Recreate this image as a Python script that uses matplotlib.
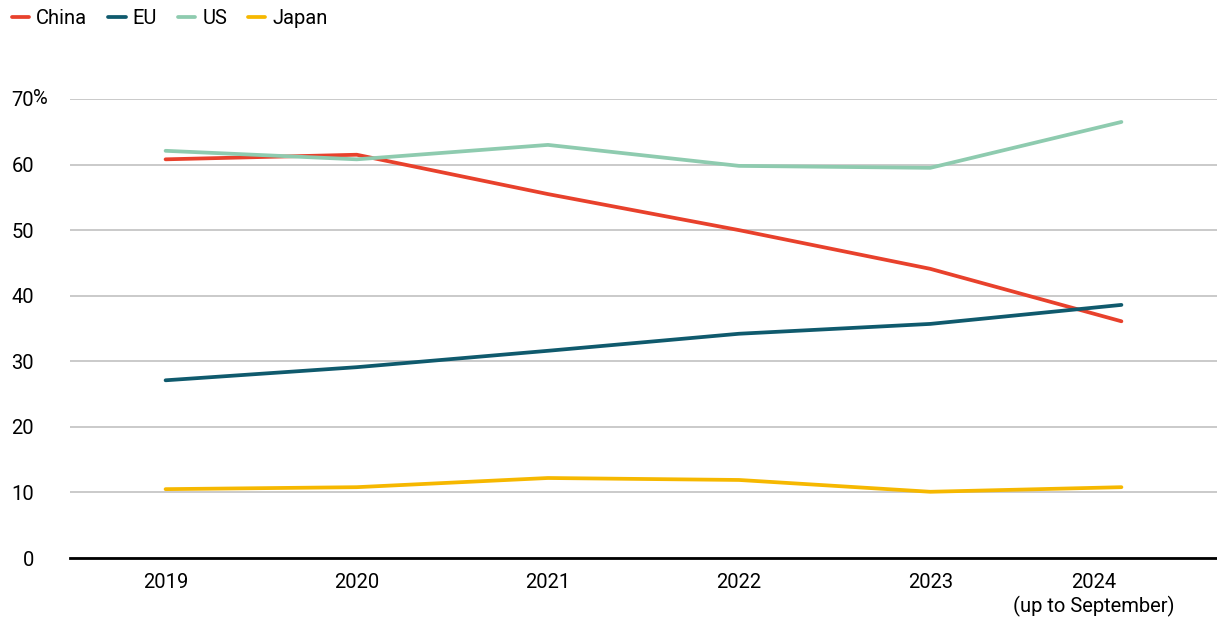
import matplotlib.pyplot as plt
import matplotlib.transforms as mtransforms
import numpy as np

plt.rcParams['font.family'] = ['Roboto', 'DejaVu Sans']

years = ['2019', '2020', '2021', '2022', '2023', '2024\n(up to September)']
china = [60.8, 61.5, 55.5, 50.0, 44.1, 36.1]
eu = [27.1, 29.1, 31.6, 34.2, 35.7, 38.6]
us = [62.1, 60.8, 63.0, 59.8, 59.5, 66.5]
japan = [10.5, 10.8, 12.2, 11.9, 10.1, 10.8]

series = [('China', china, '#e8412c'),
          ('EU', eu, '#0f5a6d'),
          ('US', us, '#8ecbaf'),
          ('Japan', japan, '#f6b800')]

FS = 14.5

fig = plt.figure(figsize=(12.17, 6.26), dpi=100)
ax = fig.add_axes([70 / 1217, 68 / 626, 1147 / 1217, 459 / 626])

x = np.arange(len(years))
for name, vals, col in series:
    ax.plot(x, vals, color=col, lw=2.7, label=name, solid_capstyle='round',
            solid_joinstyle='round', zorder=3)

ax.set_xlim(-0.5, 5.5)
ax.set_ylim(0, 70)
ax.set_yticks(range(0, 71, 10))
ax.set_yticklabels([str(v) for v in range(0, 71, 10)])
ax.set_xticks(x)
ax.set_xticklabels(years, linespacing=1.25)
ax.grid(axis='y', color='#c6c6c6', lw=1.3, zorder=1)
ax.tick_params(axis='y', length=0, pad=26, labelsize=FS)
ax.tick_params(axis='x', length=0, pad=11, labelsize=FS)
for s in ['top', 'right', 'left']:
    ax.spines[s].set_visible(False)
ax.spines['bottom'].set_linewidth(2)
ax.spines['bottom'].set_zorder(4)

# last year label sits a bit left of its point
lbl = ax.get_xticklabels()[-1]
lbl.set_transform(lbl.get_transform() +
                  mtransforms.ScaledTranslation(-28 / 100, 0, fig.dpi_scale_trans))

# percent sign right after the top tick value
pct_tr = mtransforms.blended_transform_factory(fig.transFigure, ax.transData)
ax.text(33 / 1217, 70, '%', transform=pct_tr, fontsize=FS, ha='left', va='center')

fig.legend(loc='upper left', bbox_to_anchor=(-0.005, 1.014), ncol=4, frameon=False,
           handlelength=0.85, handletextpad=0.35, columnspacing=1.05, fontsize=FS)

fig.savefig('out.png', dpi=100)
